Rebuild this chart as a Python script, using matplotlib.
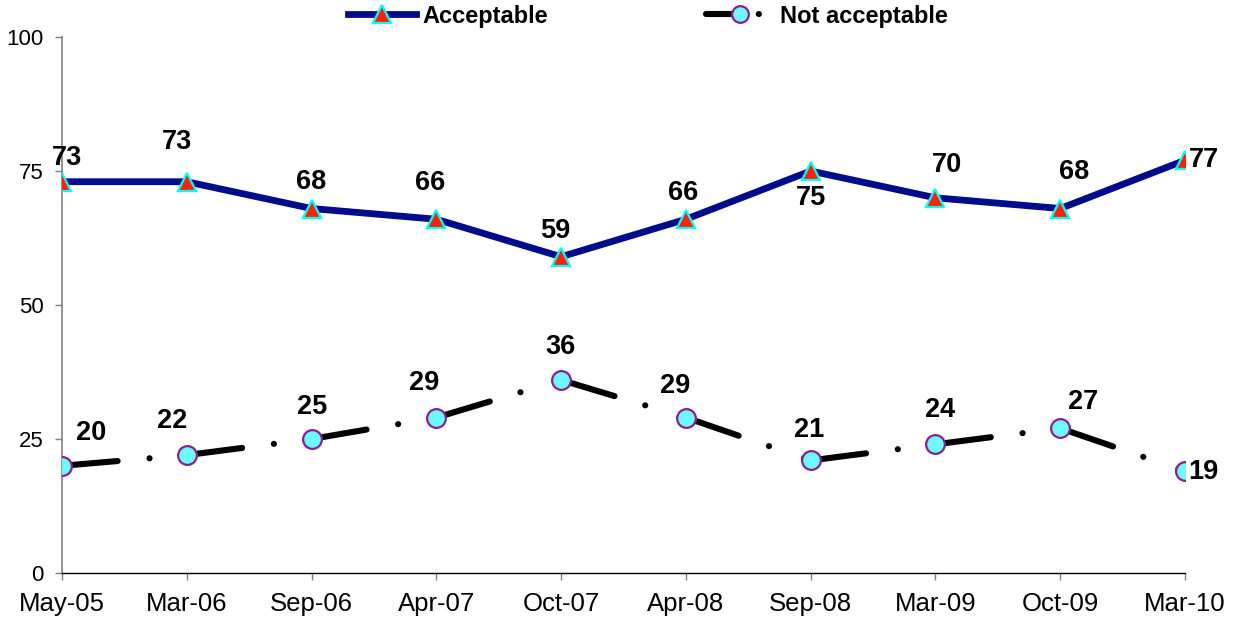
import matplotlib
matplotlib.use("Agg")
import matplotlib.pyplot as plt
from matplotlib.lines import Line2D

plt.rcParams['font.family'] = ['Liberation Sans', 'DejaVu Sans']
plt.rcParams['lines.scale_dashes'] = False

categories = ["May-05", "Mar-06", "Sep-06", "Apr-07", "Oct-07",
              "Apr-08", "Sep-08", "Mar-09", "Oct-09", "Mar-10"]
acceptable = [73, 73, 68, 66, 59, 66, 75, 70, 68, 77]
not_acceptable = [20, 22, 25, 29, 36, 29, 21, 24, 27, 19]
yticks = [0, 25, 50, 75, 100]

# label offsets in pixels (dx, dy up)
acc_off = [(5, 24), (-10, 40), (0, 27), (-6, 36), (-6, 26),
           (-3, 26), (0, -27), (12, 33), (14, 37), (19, 0)]
nac_off = [(29, 33), (-15, 34), (1, 32), (-12, 35), (-1, 33),
           (-11, 32), (-2, 30), (5, 34), (23, 26), (18, -1)]

W, H = 1237, 632
fig = plt.figure(figsize=(W / 100, H / 100), dpi=100)
ax = fig.add_axes([62 / W, 1 - 573 / H, (1185 - 62) / W, (573 - 37) / H])

NAVY = '#000C8C'
TRI_FILL = '#FF2200'
TRI_EDGE = '#00FFFF'
CIR_FILL = '#6CFAFA'
CIR_EDGE = '#8E1E8E'
dash_pat = (0, (40.2, 23.0, 0.1, 26.6))

x = list(range(len(categories)))

# Acceptable line
ax.plot(x, acceptable, color=NAVY, lw=4.9, solid_joinstyle='miter', zorder=3)
ax.plot(x, acceptable, ls='none', marker='^', ms=13.5, mfc=TRI_FILL,
        mec=TRI_EDGE, mew=1.6, zorder=5)

# Not acceptable: dash pattern restarts each segment
for i in range(len(x) - 1):
    ax.plot([x[i], x[i + 1]], [not_acceptable[i], not_acceptable[i + 1]],
            color='black', lw=4.4, linestyle=dash_pat,
            dash_capstyle='round', zorder=3)
ax.plot(x, not_acceptable, ls='none', marker='o', ms=13.5, mfc=CIR_FILL,
        mec=CIR_EDGE, mew=1.6, zorder=5)

for i, v in enumerate(acceptable):
    ax.annotate(str(v), (x[i], v), xytext=acc_off[i], textcoords='offset pixels',
                ha='center', va='center', fontsize=19.5, fontweight='bold', zorder=6)
for i, v in enumerate(not_acceptable):
    ax.annotate(str(v), (x[i], v), xytext=nac_off[i], textcoords='offset pixels',
                ha='center', va='center', fontsize=19.5, fontweight='bold', zorder=6)

ax.set_xlim(0, len(x) - 1)
ax.set_ylim(0, 100)
ax.set_yticks(yticks)
ax.set_yticklabels([str(t) for t in yticks])
ax.set_xticks(x)
ax.set_xticklabels(categories)

for s in ['top', 'right']:
    ax.spines[s].set_visible(False)
ax.spines['left'].set_color('#808080')
ax.spines['left'].set_linewidth(1.2)
ax.spines['bottom'].set_color('black')
ax.spines['bottom'].set_linewidth(1.0)
ax.tick_params(axis='y', direction='out', length=5, width=1, color='#808080',
               labelsize=16, pad=8)
ax.tick_params(axis='x', direction='out', length=5, width=1, color='#808080',
               labelsize=18.5, pad=9)
ax.set_facecolor('none')
for lab in ax.get_xticklabels():
    lab.set_clip_on(False)

h1 = Line2D([], [], color=NAVY, lw=4.9, marker='^', ms=13, mfc=TRI_FILL,
            mec=TRI_EDGE, mew=1.6)
h2 = Line2D([], [], color='black', lw=4.4, linestyle=(0, (25, 13, 0.1, 30)),
            dash_capstyle='round', marker='o', ms=12, mfc=CIR_FILL,
            mec=CIR_EDGE, mew=1.6)
fig.legend([h1, h2], ['Acceptable', 'Not acceptable'], loc='center',
           bbox_to_anchor=(648 / W, 1 - 16 / H), ncol=2, frameon=False,
           prop={'size': 17, 'weight': 'bold'}, handlelength=2.9,
           handletextpad=0.25, columnspacing=6.7, borderpad=0, borderaxespad=0)

fig.savefig('out.png', dpi=100)
